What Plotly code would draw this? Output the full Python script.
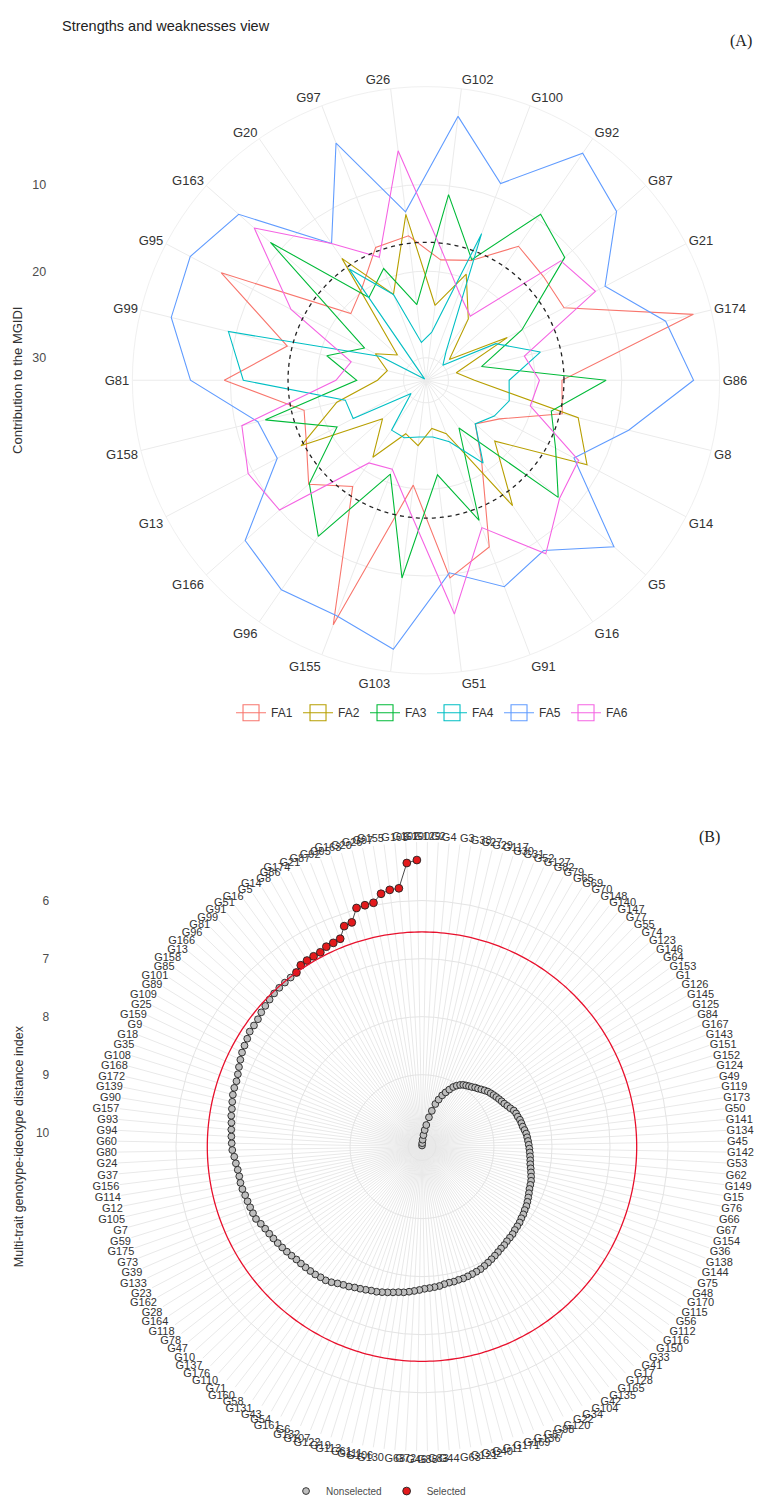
import numpy as np
import plotly.graph_objects as go

W, H = 764, 1498

# ---------------- Panel A data: contribution of each factor to the MGIDI ----------------
top_genotypes = ["G102", "G100", "G92", "G87", "G21", "G174", "G86", "G8", "G14", "G5",
                 "G16", "G91", "G51", "G103", "G155", "G96", "G166", "G13", "G158", "G81",
                 "G99", "G95", "G163", "G20", "G97", "G26"]
fa1 = [18.6, 17.8, 13.8, 14.5, 14.6, 0.8, 16.9, 16.4, 23.0, 25.0, 21.3, 12.0, 9.6,
       20.4, 2.4, 17.7, 14.5, 17.0, 18.1, 9.3, 16.1, 5.9, 21.0, 19.6, 16.2, 15.8]
fa2 = [23.9, 19.5, 24.0, 29.0, 22.0, 29.0, 27.0, 14.5, 11.6, 22.0, 15.0, 26.0, 27.0,
       25.0, 26.0, 21.8, 25.9, 16.3, 22.0, 27.0, 28.0, 26.0, 28.2, 15.5, 22.0, 13.3]
fa3 = [11.0, 17.7, 9.3, 11.2, 20.1, 26.0, 11.8, 17.7, 15.7, 12.2, 25.9, 15.3, 21.6,
       9.6, 21.0, 10.7, 14.6, 21.0, 13.5, 24.6, 20.8, 24.6, 8.6, 21.0, 18.8, 23.8]
fa4 = [27.0, 14.5, 28.5, 30.0, 23.5, 19.0, 23.0, 22.7, 23.7, 25.0, 21.0, 25.0, 26.0,
       26.0, 25.5, 25.6, 30.3, 23.1, 23.0, 11.5, 9.1, 26.7, 32.4, 17.0, 22.0, 28.2]
fa5 = [1.9, 8.3, 0.75, 3.2, 9.25, 4.1, 1.7, 8.5, 13.3, 3.6, 8.7, 7.1, 10.2,
       1.3, 3.5, 3.2, 4.7, 13.2, 12.6, 5.4, 2.3, 1.85, 3.7, 13.4, 3.3, 13.0]
fa6 = [17.5, 21.8, 23.6, 11.8, 10.5, 20.9, 19.5, 20.2, 12.7, 12.0, 8.25, 14.4, 5.4,
       17.3, 21.6, 21.0, 10.0, 9.4, 10.7, 22.2, 23.7, 15.0, 6.1, 13.4, 17.4, 5.9]
factor_names = ["FA1", "FA2", "FA3", "FA4", "FA5", "FA6"]
factor_values = [fa1, fa2, fa3, fa4, fa5, fa6]
factor_colors = ["#F8766D", "#B79F00", "#00BA38", "#00BFC4", "#619CFF", "#F564E3"]
equal_contribution = 100 / 6
top_ticks = [10, 20, 30]

# ---------------- Panel B data: MGIDI of every genotype ----------------
genotypes = [
    "G129", "G2", "G4", "G3", "G38", "G27", "G29", "G117", "G30", "G31", "G52", "G127",
    "G82", "G79", "G65", "G69", "G70", "G148",
    "G140", "G147", "G77", "G55", "G74", "G123", "G146", "G64", "G153", "G1", "G126",
    "G145", "G125", "G84", "G167", "G143", "G151", "G152", "G124", "G49", "G119", "G173",
    "G50", "G141", "G134", "G45", "G142", "G53", "G62", "G149", "G15", "G76", "G66",
    "G67", "G154", "G36", "G138", "G144", "G75", "G48", "G170", "G115", "G56", "G112",
    "G116", "G150", "G33", "G41", "G17", "G128", "G165", "G135", "G42", "G104", "G34", "G22",
    "G120", "G98", "G57", "G136", "G169", "G171", "G11", "G40", "G32", "G121", "G63",
    "G44", "G83", "G88", "G46", "G72", "G68", "G130", "G106", "G111", "G61", "G113",
    "G19", "G122", "G107", "G132",
    "G6", "G161", "G54", "G43", "G131", "G58", "G160", "G71", "G110", "G176", "G137",
    "G10", "G47", "G78", "G118", "G164", "G28", "G162", "G23", "G133", "G39", "G73",
    "G175", "G59", "G7", "G105", "G12", "G114", "G156", "G37", "G24", "G80", "G60",
    "G94", "G93", "G157", "G90", "G139", "G172", "G168", "G108", "G35", "G18", "G9",
    "G159", "G25", "G109", "G89", "G101", "G85",
    "G158", "G13", "G166", "G96", "G81", "G99", "G91", "G51", "G16", "G5", "G14", "G8",
    "G86", "G174", "G21", "G87", "G92", "G95", "G163", "G20", "G26", "G97", "G155",
    "G103", "G102", "G100"]
mgidi = [
    10.22, 10.18, 10.12, 10.04, 9.95, 9.86, 9.72, 9.60, 9.47, 9.38,
    9.29, 9.22, 9.15, 9.08, 9.03, 8.99, 8.96, 8.94, 8.92, 8.90,
    8.87, 8.85, 8.82, 8.79, 8.76, 8.74, 8.72, 8.70, 8.68, 8.66,
    8.64, 8.61, 8.58, 8.54, 8.52, 8.51, 8.49, 8.48, 8.47, 8.45,
    8.43, 8.42, 8.41, 8.40, 8.39, 8.38, 8.37, 8.36, 8.35, 8.33,
    8.31, 8.29, 8.27, 8.26, 8.25, 8.23, 8.21, 8.19, 8.17, 8.16,
    8.14, 8.13, 8.11, 8.10, 8.09, 8.07, 8.06, 8.05, 8.03, 8.02,
    8.00, 7.98, 7.96, 7.94, 7.92, 7.90, 7.89, 7.88, 7.87, 7.86,
    7.86, 7.85, 7.85, 7.84, 7.82, 7.81, 7.80, 7.79, 7.77, 7.75,
    7.73, 7.71, 7.70, 7.68, 7.66, 7.64, 7.62, 7.61, 7.59, 7.57,
    7.55, 7.52, 7.50, 7.47, 7.43, 7.40, 7.39, 7.37, 7.36, 7.35,
    7.34, 7.33, 7.31, 7.29, 7.27, 7.25, 7.23, 7.21, 7.19, 7.16,
    7.12, 7.11, 7.10, 7.09, 7.08, 7.06, 7.05, 7.05, 7.04, 7.02,
    7.00, 6.97, 6.96, 6.95, 6.94, 6.93, 6.91, 6.90, 6.88, 6.86,
    6.85, 6.85, 6.83, 6.80, 6.77, 6.74, 6.72, 6.70, 6.67, 6.67,
    6.66, 6.63, 6.61, 6.59, 6.57, 6.56, 6.555, 6.55,
    6.54, 6.48, 6.47, 6.465, 6.46, 6.42, 6.41, 6.39, 6.21, 6.19,
    5.975, 5.965, 5.955, 5.825, 5.78, 5.77, 5.345, 5.30]
n_selected = 18
bottom_ticks = [6, 7, 8, 9, 10]

assert len(genotypes) == len(set(genotypes)) == len(mgidi) == 176

# ---------------- layout geometry (pixels -> paper) ----------------
def dom_x(cx, R):
    return [(cx - R) / W, (cx + R) / W]

def dom_y(cy, R):
    return [1 - (cy + R) / H, 1 - (cy - R) / H]

A_cx, A_cy, A_R = 418, 374, 295
A_center = 32.6
A_edge = A_center - A_R / 8.7
B_cx, B_cy, B_R = 414, 1144, 306
B_center = 10.24
B_edge = B_center - B_R / 58.3

FONT = "Liberation Sans, Arial, sans-serif"
SERIF = "Liberation Serif, Times New Roman, serif"

fig = go.Figure()

# ---- Panel A ----
for name, vals, col in zip(factor_names, factor_values, factor_colors):
    fig.add_trace(go.Scatterpolar(
        r=vals + [vals[0]], theta=top_genotypes + [top_genotypes[0]],
        mode="lines", line=dict(color=col, width=1.1),
        subplot="polar", showlegend=False, name=name))
for name, col in zip(factor_names, factor_colors):
    fig.add_trace(go.Scatterpolar(
        r=[None], theta=[top_genotypes[0]], mode="lines+markers",
        line=dict(color=col, width=1.1),
        marker=dict(symbol="square-open", size=20, color=col, line=dict(width=1.1)),
        subplot="polar", name=name, legend="legend"))

circ_theta = np.linspace(0, 360, 361)
fig.add_trace(go.Scatterpolar(
    r=[equal_contribution] * len(circ_theta), theta=circ_theta, mode="lines",
    line=dict(color="#222222", width=1.3, dash="4px,4px"),
    subplot="polar3", showlegend=False, hoverinfo="skip"))

# ---- Panel B ----
cut = mgidi[-n_selected]
fig.add_trace(go.Scatterpolar(
    r=[cut] * len(circ_theta), theta=circ_theta, mode="lines",
    line=dict(color="#e8112d", width=1.3),
    subplot="polar4", showlegend=False, hoverinfo="skip"))
fig.add_trace(go.Scatterpolar(
    r=mgidi, theta=genotypes, mode="lines", line=dict(color="#333333", width=0.9),
    subplot="polar2", showlegend=False, hoverinfo="skip"))
fig.add_trace(go.Scatterpolar(
    r=mgidi[:-n_selected], theta=genotypes[:-n_selected], mode="markers",
    marker=dict(color="#bebebe", size=6.8, line=dict(color="#222222", width=0.9)),
    subplot="polar2", name="Nonselected", legend="legend2"))
fig.add_trace(go.Scatterpolar(
    r=mgidi[-n_selected:], theta=genotypes[-n_selected:], mode="markers",
    marker=dict(color="#e31a1c", size=7.8, line=dict(color="#222222", width=0.9)),
    subplot="polar2", name="Selected", legend="legend2"))

# dummy cartesian traces so the left radial scales are drawn
fig.add_trace(go.Scatter(x=[None], y=[None], xaxis="x", yaxis="y", showlegend=False, hoverinfo="skip"))
fig.add_trace(go.Scatter(x=[None], y=[None], xaxis="x2", yaxis="y2", showlegend=False, hoverinfo="skip"))

grid = "#ebebeb"
overlay_axes = dict(
    bgcolor="rgba(0,0,0,0)",
    angularaxis=dict(visible=False, showgrid=False, showline=False, ticks=""),
)

fig.update_layout(
    width=W, height=H,
    margin=dict(l=0, r=0, t=0, b=0),
    paper_bgcolor="white", plot_bgcolor="rgba(0,0,0,0)",
    font=dict(family=FONT, color="#333333"),
    polar=dict(
        domain=dict(x=dom_x(A_cx, A_R), y=dom_y(A_cy, A_R)),
        bgcolor="white",
        angularaxis=dict(type="category", categoryorder="array", categoryarray=top_genotypes,
                         direction="clockwise", rotation=90 - 180 / len(top_genotypes),
                         showgrid=True, gridcolor=grid, gridwidth=1,
                         showline=True, linecolor="#f0f0f0", linewidth=1, ticks="",
                         tickfont=dict(size=13, color="#333333", family=FONT)),
        radialaxis=dict(range=[A_center, A_edge], tickvals=top_ticks, showticklabels=False,
                        showline=False, ticks="", gridcolor=grid, gridwidth=1),
    ),
    polar3=dict(domain=dict(x=dom_x(A_cx, A_R), y=dom_y(A_cy, A_R)),
                radialaxis=dict(visible=False, range=[A_center, A_edge], showgrid=False),
                **overlay_axes),
    polar2=dict(
        domain=dict(x=dom_x(B_cx, B_R), y=dom_y(B_cy, B_R)),
        bgcolor="white",
        angularaxis=dict(type="category", categoryorder="array", categoryarray=genotypes,
                         direction="clockwise", rotation=90 - 180 / len(genotypes),
                         showgrid=True, gridcolor="#e9e9e9", gridwidth=0.8,
                         showline=False, ticks="",
                         tickfont=dict(size=11, color="#333333", family=FONT)),
        radialaxis=dict(range=[B_center, B_edge], tickvals=bottom_ticks, showticklabels=False,
                        showline=False, ticks="", gridcolor="#e4e4e4", gridwidth=1),
    ),
    polar4=dict(domain=dict(x=dom_x(B_cx, B_R), y=dom_y(B_cy, B_R)),
                radialaxis=dict(visible=False, range=[B_center, B_edge], showgrid=False),
                **overlay_axes),
    xaxis=dict(domain=[0, 0.03], visible=False),
    yaxis=dict(domain=dom_y(A_cy, A_R), anchor="free", position=0.05,
               range=[A_center + (A_center - A_edge), A_edge],
               tickvals=top_ticks, showgrid=False, zeroline=False, showline=False, ticks="",
               tickfont=dict(size=12.5, color="#4d4d4d"),
               title=dict(text="Contribution to the MGIDI", font=dict(size=13, color="#333333"),
                          standoff=5)),
    xaxis2=dict(domain=[0, 0.03], visible=False, anchor="y2"),
    yaxis2=dict(domain=dom_y(B_cy, B_R), anchor="free", position=0.054,
                range=[B_center + (B_center - B_edge), B_edge],
                tickvals=bottom_ticks, showgrid=False, zeroline=False, showline=False, ticks="",
                tickfont=dict(size=12, color="#4d4d4d"),
                title=dict(text="Multi-trait genotype-ideotype distance index",
                           font=dict(size=12.5, color="#333333"), standoff=8)),
    legend=dict(orientation="h", x=0.555, xanchor="center", y=1 - 708 / H, yanchor="middle",
                font=dict(size=12, color="#333333"), itemwidth=30,
                entrywidth=22, entrywidthmode="pixels", bgcolor="rgba(0,0,0,0)"),
    legend2=dict(orientation="h", x=0.485, xanchor="center", y=1 - 1490 / H, yanchor="middle",
                 font=dict(size=10, color="#4d4d4d"), itemwidth=30, bgcolor="rgba(0,0,0,0)"),
    annotations=[
        dict(text="Strengths and weaknesses view", x=52 / W, y=1 - 18 / H, xref="paper", yref="paper",
             xanchor="left", yanchor="middle", showarrow=False,
             font=dict(size=14.5, color="#222222", family=FONT)),
        dict(text="(A)", x=733 / W, y=1 - 33 / H, xref="paper", yref="paper",
             xanchor="center", yanchor="middle", showarrow=False,
             font=dict(size=16, color="#222222", family=SERIF)),
        dict(text="(B)", x=701 / W, y=1 - 833 / H, xref="paper", yref="paper",
             xanchor="center", yanchor="middle", showarrow=False,
             font=dict(size=16, color="#222222", family=SERIF)),
    ],
)

fig.write_html("out.html")
